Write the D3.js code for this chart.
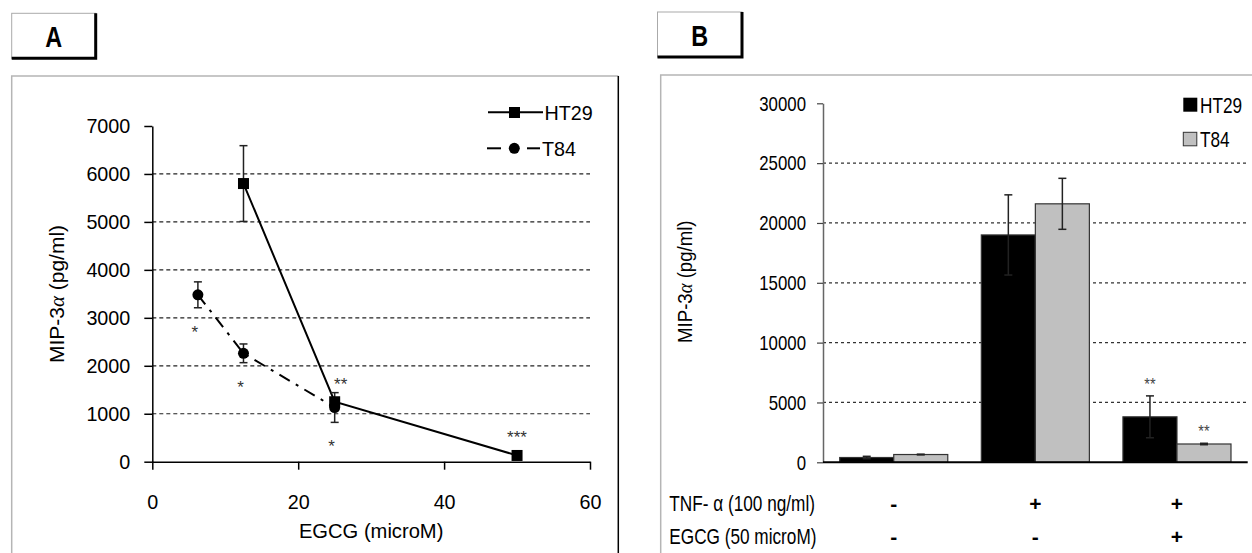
<!DOCTYPE html>
<html>
<head>
<meta charset="utf-8">
<script src="https://cdn.jsdelivr.net/npm/d3@7"></script>
<style>
  body { margin: 0; background: #fff; }
  svg { display: block; }
  text { font-family: "Liberation Sans", Arial, sans-serif; }
</style>
</head>
<body>
<svg id="fig" width="1252" height="553"></svg>
<script>
// ---- panel A: dose response (line chart)
const doseTicks = [0, 20, 40, 60];
const yTicksA = [0, 1000, 2000, 3000, 4000, 5000, 6000, 7000];
const ht29Dose = [12.5, 25, 50];
const ht29Mean = [5800, 1250, 130];
const ht29Sem = [790, 0, 0];
const ht29Sig = ["", "**", "***"];
const t84Dose = [6.25, 12.5, 25];
const t84Mean = [3480, 2260, 1130];
const t84Sem = [270, 195, 310];
const t84Sig = ["*", "*", "*"];

// ---- panel B: TNF / EGCG treatment (bar chart)
const conditions = ["control", "TNF", "TNF+EGCG"];
const rowLabels = ["TNF- \u03b1 (100 ng/ml)", "EGCG (50 microM)"];
const tnfRow = ["-", "+", "+"];
const egcgRow = ["-", "-", "+"];
const cellLines = ["HT29", "T84"];
const ht29Bars = [400, 19000, 3800];
const ht29BarsSem = [100, 3350, 1750];
const ht29BarsSig = ["", "", "**"];
const t84Bars = [650, 21600, 1530];
const t84BarsSem = [30, 2130, 60];
const t84BarsSig = ["", "", "**"];
const yTicksB = [0, 5000, 10000, 15000, 20000, 25000, 30000];

const svg = d3.select("#fig");

// squeeze text horizontally, the figure uses a narrow typeface
function narrow(sel, k) {
    sel.each(function () {
        let len = this.getComputedTextLength();
        if (len > 0) {
            d3.select(this).attr("textLength", len * k).attr("lengthAdjust", "spacingAndGlyphs");
        }
    });
}

function labelBox(g, x, y, w, h, letter) {
    g.append("rect").attr("x", x).attr("y", y).attr("width", w).attr("height", h)
        .attr("fill", "#fff").attr("stroke", "#aaa").attr("stroke-width", 1);
    g.append("path")
        .attr("d", `M${x},${y + h} H${x + w} V${y}`)
        .attr("fill", "none").attr("stroke", "#000").attr("stroke-width", 3);
    let t = g.append("text")
        .attr("x", x + w / 2).attr("y", y + h / 2 + 11)
        .attr("text-anchor", "middle")
        .style("font-weight", "bold").style("font-size", "30px")
        .text(letter);
    narrow(t, 0.78);
}

function errorBar(g, cx, yLo, yHi, color) {
    if (yLo === yHi) return;
    g.append("line").attr("x1", cx).attr("x2", cx).attr("y1", yLo).attr("y2", yHi)
        .attr("stroke", color).attr("stroke-width", 1.5);
    [yLo, yHi].forEach(v => {
        g.append("line").attr("x1", cx - 4).attr("x2", cx + 4).attr("y1", v).attr("y2", v)
            .attr("stroke", color).attr("stroke-width", 1.5);
    });
}

function yTitle(g, cx, cy, size) {
    let t = g.append("text")
        .attr("transform", `translate(${cx},${cy}) rotate(-90)`)
        .attr("text-anchor", "middle").attr("dy", "0.35em")
        .style("font-size", size + "px");
    t.append("tspan").text("MIP-3");
    t.append("tspan").style("font-style", "italic").style("font-family", '"Liberation Serif", serif').text("\u03b1");
    t.append("tspan").text(" (pg/ml)");
    return t;
}

function drawPanelA() {
    const g = svg.append("g").attr("class", "pa");

    // frame
    g.append("path").attr("d", "M11.7,553 V76 H618.3")
        .attr("fill", "none").attr("stroke", "#b5b5b5").attr("stroke-width", 1.5);
    g.append("line").attr("x1", 618.3).attr("x2", 618.3).attr("y1", 76).attr("y2", 553)
        .attr("stroke", "#000").attr("stroke-width", 1.5);
    labelBox(g, 11.7, 13.3, 84, 45, "A");

    const x = d3.scaleLinear().domain([0, 60]).range([152.3, 590]);
    const y = d3.scaleLinear().domain([0, 7000]).range([461.7, 126]);

    // gridlines
    g.selectAll("line.grid")
        .data(yTicksA.filter(v => v > 0 && v < 7000))
        .join("line").attr("class", "grid")
        .attr("x1", x(0)).attr("x2", x(60))
        .attr("y1", d => y(d)).attr("y2", d => y(d))
        .attr("stroke", "#222").attr("stroke-width", 1.2)
        .attr("stroke-dasharray", "4,3");

    const yAxis = g.append("g")
        .attr("transform", `translate(${x(0)},0)`)
        .call(d3.axisLeft(y).tickValues(yTicksA).tickFormat(d3.format("d"))
            .tickSize(8).tickSizeOuter(0).tickPadding(14));
    const xAxis = g.append("g")
        .attr("transform", `translate(0,${y(0)})`)
        .call(d3.axisBottom(x).tickValues(doseTicks).tickFormat(d3.format("d"))
            .tickSize(8).tickSizeOuter(0).tickPadding(24));
    [yAxis, xAxis].forEach(a => {
        a.select(".domain").attr("stroke", "#000").attr("stroke-width", 1.5);
        a.selectAll(".tick line").attr("stroke", "#000").attr("stroke-width", 1.5);
        a.selectAll("text").style("font-size", "21px").style("font-family", '"Liberation Sans", Arial, sans-serif')
            .attr("fill", "#000");
    });
    narrow(yAxis.selectAll("text"), 0.94);
    narrow(xAxis.selectAll("text"), 0.94);

    const ht29 = ht29Dose.map((d, i) => ({dose: d, mean: ht29Mean[i], sem: ht29Sem[i], sig: ht29Sig[i]}));
    const t84 = t84Dose.map((d, i) => ({dose: d, mean: t84Mean[i], sem: t84Sem[i], sig: t84Sig[i]}));
    const line = d3.line().x(d => x(d.dose)).y(d => y(d.mean));

    g.append("path").datum(t84).attr("d", line)
        .attr("fill", "none").attr("stroke", "#000").attr("stroke-width", 2)
        .attr("stroke-dasharray", "12,7,3,7");
    g.append("path").datum(ht29).attr("d", line)
        .attr("fill", "none").attr("stroke", "#000").attr("stroke-width", 2);

    t84.forEach(d => errorBar(g, x(d.dose), y(d.mean - d.sem), y(d.mean + d.sem), "#222"));
    ht29.forEach(d => errorBar(g, x(d.dose), y(d.mean - d.sem), y(d.mean + d.sem), "#222"));

    g.selectAll("circle.t84").data(t84).join("circle").attr("class", "t84")
        .attr("cx", d => x(d.dose)).attr("cy", d => y(d.mean)).attr("r", 5.5).attr("fill", "#000");
    g.selectAll("rect.ht29").data(ht29).join("rect").attr("class", "ht29")
        .attr("x", d => x(d.dose) - 5.5).attr("y", d => y(d.mean) - 5.5)
        .attr("width", 11).attr("height", 11).attr("fill", "#000");

    // significance marks
    g.selectAll("text.sigt84").data(t84).join("text").attr("class", "sigt84")
        .attr("x", d => x(d.dose) - 3).attr("y", d => y(d.mean - d.sem) + 30)
        .attr("text-anchor", "middle").style("font-size", "17px").attr("fill", "#333")
        .text(d => d.sig);
    g.selectAll("text.sight29").data(ht29).join("text").attr("class", "sight29")
        .attr("x", d => x(d.dose) + (d.sig.length === 2 ? 6 : 0)).attr("y", d => y(d.mean) - 12)
        .attr("text-anchor", "middle").style("font-size", "17px").attr("fill", "#333")
        .text(d => d.sig);

    // legend
    const lg = g.append("g");
    lg.append("line").attr("x1", 488).attr("x2", 543).attr("y1", 112.3).attr("y2", 112.3)
        .attr("stroke", "#000").attr("stroke-width", 2);
    lg.append("rect").attr("x", 509).attr("y", 107).attr("width", 11).attr("height", 11).attr("fill", "#000");
    lg.append("text").attr("x", 544.5).attr("y", 119.8).style("font-size", "21px").text("HT29");
    lg.append("line").attr("x1", 487).attr("x2", 501).attr("y1", 148.3).attr("y2", 148.3)
        .attr("stroke", "#000").attr("stroke-width", 2);
    lg.append("line").attr("x1", 527).attr("x2", 540).attr("y1", 148.3).attr("y2", 148.3)
        .attr("stroke", "#000").attr("stroke-width", 2);
    lg.append("circle").attr("cx", 514.3).attr("cy", 148.3).attr("r", 5.5).attr("fill", "#000");
    lg.append("text").attr("x", 542).attr("y", 155.8).style("font-size", "21px").text("T84");
    narrow(lg.selectAll("text"), 0.94);

    // axis titles
    let xt = g.append("text").attr("x", (x(0) + x(60)) / 2).attr("y", 537.8)
        .attr("text-anchor", "middle").style("font-size", "21px").text("EGCG (microM)");
    narrow(xt, 0.96);
    yTitle(g, 57, 294, 21);
}

function drawPanelB() {
    const g = svg.append("g").attr("class", "pb");
    const squeeze = 0.8;

    g.append("path").attr("d", "M660.7,553 V75 H1252")
        .attr("fill", "none").attr("stroke", "#b5b5b5").attr("stroke-width", 1.5);
    labelBox(g, 657.5, 12, 84.5, 45, "B");

    const x0 = d3.scaleBand().domain(conditions).range([823, 1247.7])
        .paddingInner(0.237).paddingOuter(0.118);
    const x1 = d3.scaleBand().domain(cellLines).range([0, x0.bandwidth()]);
    const y = d3.scaleLinear().domain([0, 30000]).range([462.3, 103.3]);

    g.selectAll("line.grid")
        .data(yTicksB.filter(v => v > 0 && v < 30000))
        .join("line").attr("class", "grid")
        .attr("x1", 823).attr("x2", 1247.7)
        .attr("y1", d => y(d)).attr("y2", d => y(d))
        .attr("stroke", "#333").attr("stroke-width", 1.2)
        .attr("stroke-dasharray", "3,3");

    const yAxis = g.append("g")
        .attr("transform", "translate(823,0)")
        .call(d3.axisLeft(y).tickValues(yTicksB).tickFormat(d3.format("d"))
            .tickSize(6).tickSizeOuter(0).tickPadding(11));
    yAxis.select(".domain").attr("stroke", "#666").attr("stroke-width", 1.5);
    yAxis.selectAll(".tick line").attr("stroke", "#444").attr("stroke-width", 1.2);
    yAxis.selectAll("text").style("font-size", "21px").style("font-family", '"Liberation Sans", Arial, sans-serif')
        .attr("fill", "#000");
    narrow(yAxis.selectAll("text"), squeeze);

    const groups = conditions.map((c, i) => ({
        cond: c,
        bars: [
            {line: "HT29", v: ht29Bars[i], sem: ht29BarsSem[i], sig: ht29BarsSig[i], fill: "#000"},
            {line: "T84", v: t84Bars[i], sem: t84BarsSem[i], sig: t84BarsSig[i], fill: "#c0c0c0"}
        ]
    }));

    groups.forEach(grp => {
        const gg = g.append("g").attr("transform", `translate(${x0(grp.cond)},0)`);
        gg.selectAll("rect").data(grp.bars).join("rect")
            .attr("x", d => x1(d.line)).attr("y", d => y(d.v))
            .attr("width", x1.bandwidth()).attr("height", d => y(0) - y(d.v))
            .attr("fill", d => d.fill).attr("stroke", "#333").attr("stroke-width", 1.2);
        grp.bars.forEach(d => {
            const cx = x1(d.line) + x1.bandwidth() / 2;
            errorBar(gg, cx, y(d.v - d.sem), y(d.v + d.sem), "#222");
            if (d.sig) {
                let s = gg.append("text").attr("x", cx).attr("y", y(d.v + d.sem) - 6)
                    .attr("text-anchor", "middle").style("font-size", "17px").attr("fill", "#444")
                    .text(d.sig);
                narrow(s, 0.85);
            }
        });
    });

    // x axis line
    g.append("line").attr("x1", 823).attr("x2", 1247.7).attr("y1", y(0)).attr("y2", y(0))
        .attr("stroke", "#000").attr("stroke-width", 2);

    // treatment rows
    const rows = [
        {label: rowLabels[0], marks: tnfRow, base: 511},
        {label: rowLabels[1], marks: egcgRow, base: 543.5}
    ];
    rows.forEach(r => {
        const t = g.append("text").attr("x", 669.3).attr("y", r.base)
            .style("font-size", "21.5px").text(r.label);
        narrow(t, squeeze);
        g.selectAll(null).data(conditions).join("text")
            .attr("x", c => x0(c) + x0.bandwidth() / 2).attr("y", r.base)
            .attr("text-anchor", "middle").style("font-size", "21px").style("font-weight", "bold")
            .text((c, i) => r.marks[i]);
    });

    // legend
    const lg = g.append("g");
    lg.append("rect").attr("x", 1183.3).attr("y", 97.7).attr("width", 14).attr("height", 14)
        .attr("fill", "#000");
    lg.append("text").attr("x", 1200).attr("y", 112.8).style("font-size", "21.5px").text("HT29");
    lg.append("rect").attr("x", 1183.3).attr("y", 132.3).attr("width", 13.5).attr("height", 13.5)
        .attr("fill", "#c0c0c0").attr("stroke", "#333").attr("stroke-width", 1);
    lg.append("text").attr("x", 1200).attr("y", 146.8).style("font-size", "21.5px").text("T84");
    narrow(lg.selectAll("text"), squeeze);

    let yt = yTitle(g, 685, 281.7, 20);
    narrow(yt, 0.93);
}

drawPanelA();
drawPanelB();
</script>
</body>
</html>
